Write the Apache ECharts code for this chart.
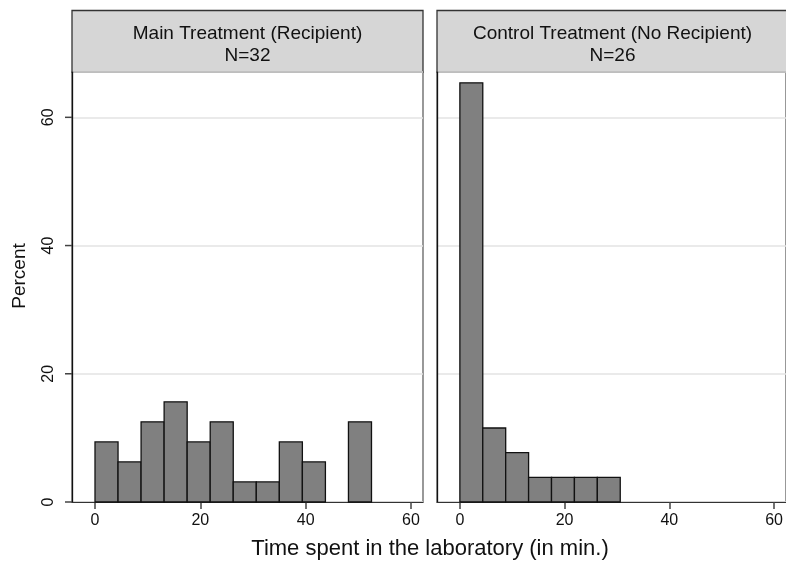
<!DOCTYPE html>
<html>
<head>
<meta charset="utf-8">
<script src="https://cdn.jsdelivr.net/npm/echarts@6/dist/echarts.min.js"></script>
<style>
  html, body { margin: 0; padding: 0; background: #fff; }
  #chart { width: 786px; height: 562px; }
</style>
</head>
<body>
<div id="chart"></div>
<script>
// histogram bins (minutes), width 4.375
var binLow = [0, 4.375, 8.75, 13.125, 17.5, 21.875, 26.25, 30.625, 35, 39.375, 43.75, 48.125]
var binWidth = 4.375
// percent of subjects per bin
var mainPercent = [9.375, 6.25, 12.5, 15.625, 9.375, 12.5, 3.125, 3.125, 9.375, 6.25, 0, 12.5]
var controlPercent = [65.38, 11.54, 7.69, 3.85, 3.85, 3.85, 3.85]
var panelTitles = ['Main Treatment (Recipient)\nN=32', 'Control Treatment (No Recipient)\nN=26']
var xTicks = [0, 20, 40, 60]
var yTicks = [0, 20, 40, 60]

var xMin = -4.367, xMax = 62.28
var font = '"Liberation Sans", Arial, sans-serif'

function toRows(percents) {
    var rows = []
    percents.forEach(function(p, i) {
        rows.push([binLow[i], binLow[i] + binWidth, p])
    })
    return rows
}

function renderBin(params, api) {
    var h = api.value(2)
    if (!h) return null
    var top = api.coord([api.value(0), h])
    var bottom = api.coord([api.value(1), 0])
    return {
        type: 'rect',
        shape: { x: top[0], y: top[1], width: bottom[0] - top[0], height: bottom[1] - top[1] },
        style: { fill: '#808080', stroke: '#111', lineWidth: 1.3 }
    }
}

// y ticks, drawn outward from the left edge of the first panel
function renderYTick(params, api) {
    var p = api.coord([api.value(0), api.value(1)])
    return {
        type: 'line',
        shape: { x1: p[0] - 7, y1: p[1], x2: p[0], y2: p[1] },
        style: { stroke: '#444', lineWidth: 1.5 }
    }
}

function xAxisFor(idx) {
    return {
        type: 'value',
        gridIndex: idx,
        min: xMin,
        max: xMax,
        axisLine: { show: true, onZero: false, lineStyle: { color: '#333', width: 1.2 } },
        axisTick: { show: true, length: 7, customValues: xTicks, lineStyle: { color: '#444', width: 1.5 } },
        axisLabel: { customValues: xTicks, margin: 11, color: '#111', fontSize: 16, fontFamily: font },
        splitLine: { show: false }
    }
}

function yAxisFor(idx) {
    var first = idx === 0
    return {
        type: 'value',
        gridIndex: idx,
        min: 0,
        max: 67.07,
        interval: 20,
        axisLine: { show: true, onZero: false, lineStyle: { color: '#111', width: 1.3 } },
        axisTick: { show: false },
        axisLabel: {
            show: first, rotate: 90, margin: 15, color: '#111', fontSize: 16, fontFamily: font,
            formatter: function(v) { return yTicks.indexOf(v) >= 0 ? String(v) : '' }
        },
        splitLine: { show: true, lineStyle: { color: '#e3e3e3', width: 1.5 } }
    }
}

function header(x, text) {
    return {
        type: 'group',
        z: 100,
        children: [
            {
                type: 'rect',
                shape: { x: x, y: 10.5, width: 351, height: 61.5 },
                style: { fill: '#d6d6d6', stroke: '#333', lineWidth: 1.3 }
            },
            {
                type: 'text',
                x: x + 175.5,
                y: 44.5,
                style: {
                    text: text, fill: '#111', font: '19px ' + font,
                    align: 'center', verticalAlign: 'middle', lineHeight: 22
                }
            }
        ]
    }
}

var chart = echarts.init(document.getElementById('chart'))
chart.setOption({
    animation: false,
    backgroundColor: '#fff',
    grid: [
        { left: 72, top: 72, width: 351, height: 430, show: true, borderColor: '#555', borderWidth: 1.2, backgroundColor: 'transparent' },
        { left: 437, top: 72, width: 351, height: 430, show: true, borderColor: '#555', borderWidth: 1.2, backgroundColor: 'transparent' }
    ],
    xAxis: [xAxisFor(0), xAxisFor(1)],
    yAxis: [yAxisFor(0), yAxisFor(1)],
    series: [
        { type: 'custom', xAxisIndex: 0, yAxisIndex: 0, renderItem: renderBin, data: toRows(mainPercent), z: 5 },
        { type: 'custom', xAxisIndex: 1, yAxisIndex: 1, renderItem: renderBin, data: toRows(controlPercent), z: 5 },
        {
            type: 'custom', xAxisIndex: 0, yAxisIndex: 0, renderItem: renderYTick,
            data: yTicks.map(function(v) { return [xMin, v] }), clip: false, silent: true, z: 6
        }
    ],
    graphic: [
        header(72, panelTitles[0]),
        header(437, panelTitles[1]),
        {
            type: 'text', x: 20, y: 276, rotation: Math.PI / 2,
            style: { text: 'Percent', fill: '#111', font: '19px ' + font, align: 'center', verticalAlign: 'middle' }
        },
        {
            type: 'text', x: 430, y: 549,
            style: { text: 'Time spent in the laboratory (in min.)', fill: '#111', font: '22px ' + font, align: 'center', verticalAlign: 'middle' }
        }
    ]
})
</script>
</body>
</html>
